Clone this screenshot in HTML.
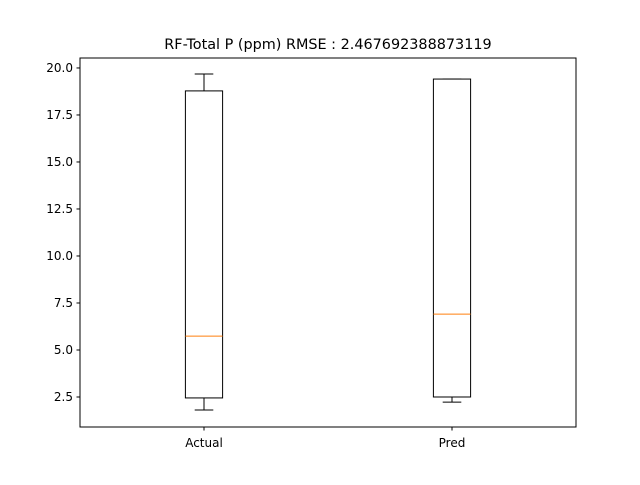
<!DOCTYPE html>
<html><head><meta charset="utf-8"><style>
body{margin:0;background:#fff}
svg text{font-family:"DejaVu Sans","Liberation Sans",sans-serif;fill:#000}
</style></head><body>
<svg id="chart" width="640" height="480" xmlns="http://www.w3.org/2000/svg">
<rect width="640" height="480" fill="#fff"/>
<text x="328" y="49" font-size="14.4" text-anchor="middle">RF-Total P (ppm) RMSE : 2.467692388873119</text>
<g id="plot"></g>
<rect x="80" y="58" width="496" height="369" fill="none" stroke="#000" stroke-width="1"/>
</svg>
<script>
const categories=["Actual","Pred"];
const whiskerLow=[1.81,2.23];
const q1=[2.45,2.50];
const median=[5.74,6.91];
const q3=[18.78,19.41];
const whiskerHigh=[19.68,19.41];
const yTicks=[2.5,5.0,7.5,10.0,12.5,15.0,17.5,20.0];
const yTickLabels=["2.5","5.0","7.5","10.0","12.5","15.0","17.5","20.0"];

const L=80,R=576,T=58,B=427,yMin=0.904,yMax=20.53,xMin=0.5,xMax=2.5;
const X=v=>L+(v-xMin)/(xMax-xMin)*(R-L);
const Y=v=>B-(v-yMin)/(yMax-yMin)*(B-T);
const g=document.getElementById('plot');
const NS="http://www.w3.org/2000/svg";
function mk(tag,attrs){const e=document.createElementNS(NS,tag);for(const k in attrs)e.setAttribute(k,attrs[k]);g.appendChild(e);return e;}
function line(x1,y1,x2,y2,c){return mk('line',{x1,y1,x2,y2,stroke:c||'#000','stroke-width':1});}
yTicks.forEach((t,i)=>{
  const y=Y(t);
  const tk=line(L-3.5,y,L,y);
  
  
  const tx=mk('text',{x:L-7,y:y+4,'font-size':12,'text-anchor':'end'});
  tx.textContent=yTickLabels[i];
  
  
});
const hw=(0.15/2)/(xMax-xMin)*(R-L), cw=hw/2;
categories.forEach((c,i)=>{
  const cx=X(i+1);
  const tk=line(cx,B,cx,B+3.5);
  
  
  const tx=mk('text',{x:cx,y:B+20,'font-size':12,'text-anchor':'middle'});
  tx.textContent=c;
  
  
  const box=mk('rect',{x:cx-hw,y:Y(q3[i]),width:2*hw,height:Y(q1[i])-Y(q3[i]),fill:'none',stroke:'#000','stroke-width':1});
  
  
  const w1=line(cx,Y(q3[i]),cx,Y(whiskerHigh[i]));
  
  
  const w2=line(cx,Y(q1[i]),cx,Y(whiskerLow[i]));
  
  
  const c1=line(cx-cw,Y(whiskerHigh[i]),cx+cw,Y(whiskerHigh[i]));
  
  
  const c2=line(cx-cw,Y(whiskerLow[i]),cx+cw,Y(whiskerLow[i]));
  
  
  const m=line(cx-hw,Y(median[i]),cx+hw,Y(median[i]),'#ff7f0e');
  
  
});
</script>
</body></html>
